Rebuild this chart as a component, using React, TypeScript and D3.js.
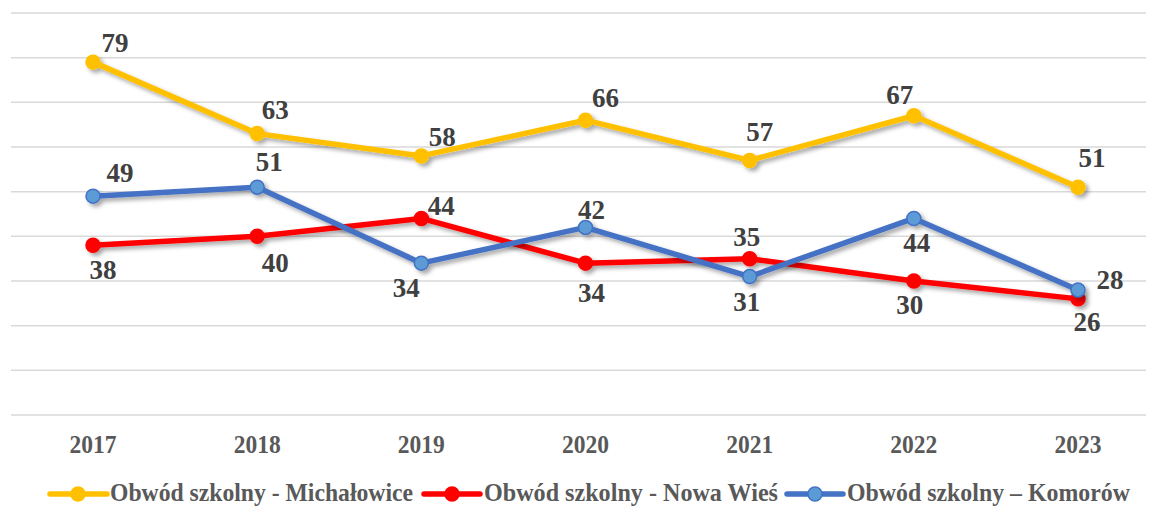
import React from 'react';
import * as d3 from 'd3';

const years = ['2017', '2018', '2019', '2020', '2021', '2022', '2023'];
const michalowice = [79, 63, 58, 66, 57, 67, 51];
const nowaWies = [38, 40, 44, 34, 35, 30, 26];
const komorow = [49, 51, 34, 42, 31, 44, 28];
const seriesNames = [
  'Obwód szkolny - Michałowice',
  'Obwód szkolny - Nowa Wieś',
  'Obwód szkolny – Komorów',
];
const yTicks = [0, 10, 20, 30, 40, 50, 60, 70, 80, 90];

// label offsets (label centre relative to the point), hand placed like in Excel
const labelOffsets = [
  [[22, -19], [18, -24], [21, -19], [20, -22], [10, -28], [-14, -21], [14, -29]],
  [[10, 25], [18, 27], [20, -12], [6, 30], [-3, -22], [-4, 24], [9, 23]],
  [[27, -23], [12, -25], [-15, 25], [6, -17], [-3, 25], [3, 25], [32, -10]],
];

const W = 1150;
const H = 508;

export default function App() {
  const x = d3.scalePoint().domain(years).range([93, 1078]);
  const y = d3.scaleLinear().domain([0, 90]).range([415, 13]);

  const series = [
    { name: seriesNames[0], values: michalowice, line: '#FFC000', fill: '#FFC000', stroke: '#FFC000' },
    { name: seriesNames[1], values: nowaWies, line: '#FF0000', fill: '#FF0000', stroke: '#FF0000' },
    { name: seriesNames[2], values: komorow, line: '#4472C4', fill: '#5B9BD5', stroke: '#4472C4' },
  ];

  const line = d3.line<number>()
    .x((_, i) => x(years[i]) as number)
    .y((d) => y(d));

  const legend = [
    { lx1: 50, lx2: 107, cx: 78, tx: 110, tw: 303 },
    { lx1: 424, lx2: 480, cx: 452, tx: 484, tw: 294 },
    { lx1: 787, lx2: 843, cx: 815, tx: 847, tw: 283 },
  ];

  const font = '"Liberation Serif", "Times New Roman", serif';

  return (
    <svg width={W} height={H} style={{ position: 'absolute', left: 0, top: 0 }} fontFamily={font}>
      <defs>
        <filter id="sh" x="-10%" y="-10%" width="120%" height="130%">
          <feDropShadow dx="3" dy="3" stdDeviation="2" floodColor="#000" floodOpacity="0.35" />
        </filter>
      </defs>
      <rect width={W} height={H} fill="#fff" />
      {yTicks.map((t) => (
        <line key={t} x1={11} x2={1146} y1={y(t)} y2={y(t)} stroke="#D9D9D9" strokeWidth={1.5} />
      ))}
      {years.map((yr) => (
        <text key={yr} x={x(yr)} y={453} textAnchor="middle" fontSize={25} fontWeight="bold"
          fill="#595959" textLength={47} lengthAdjust="spacingAndGlyphs">{yr}</text>
      ))}
      {series.map((s) => (
        <g key={s.name} filter="url(#sh)">
          <path d={line(s.values) || ''} fill="none" stroke={s.line} strokeWidth={5.5} strokeLinejoin="round" />
          {s.values.map((v, i) => (
            <circle key={i} cx={x(years[i])} cy={y(v)} r={7} fill={s.fill} stroke={s.stroke} strokeWidth={1.5} />
          ))}
        </g>
      ))}
      {series.map((s, si) => (
        <g key={s.name + 'l'}>
          {s.values.map((v, i) => (
            <text key={i} x={(x(years[i]) as number) + labelOffsets[si][i][0]}
              y={y(v) + labelOffsets[si][i][1] + 9} textAnchor="middle" fontSize={27}
              fontWeight="bold" fill="#404040">{v}</text>
          ))}
        </g>
      ))}
      {series.map((s, si) => {
        const l = legend[si];
        return (
          <g key={s.name + 'g'}>
            <line x1={l.lx1} x2={l.lx2} y1={494} y2={494} stroke={s.line} strokeWidth={5.5} strokeLinecap="round" />
            <circle cx={l.cx} cy={494} r={7} fill={s.fill} stroke={s.stroke} strokeWidth={1.5} />
            <text x={l.tx} y={501} fontSize={25} fontWeight="bold" fill="#595959"
              textLength={l.tw} lengthAdjust="spacingAndGlyphs">{s.name}</text>
          </g>
        );
      })}
    </svg>
  );
}
